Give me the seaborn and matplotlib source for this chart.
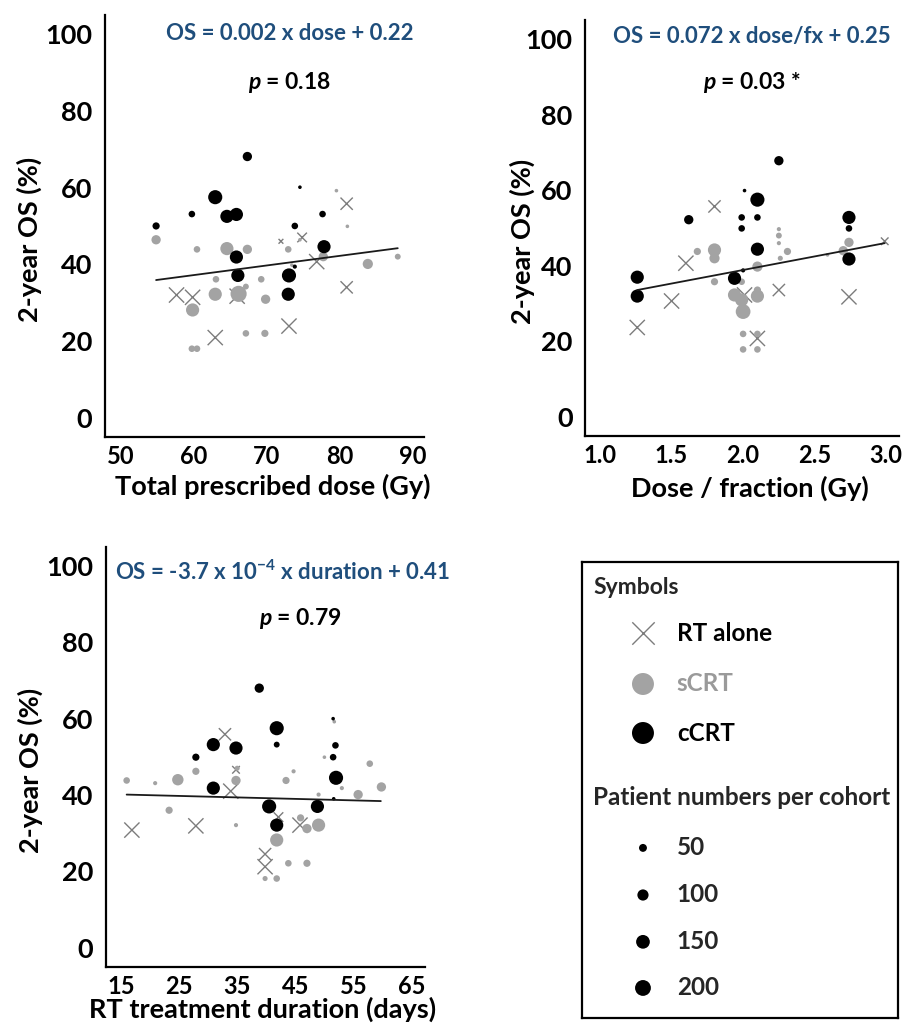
import numpy as np
import pandas as pd
import matplotlib
matplotlib.use("Agg")
import matplotlib.pyplot as plt
import seaborn as sns

# ---------------- data ----------------
# Panel A: total prescribed dose (Gy)
dose_x = [54.9, 59.8, 63.0, 64.6, 65.9, 67.4, 65.9, 66.1, 73.1, 73.0, 73.9, 74.6, 77.7, 77.9, 73.9,
          54.9, 60.5, 64.6, 67.4, 63.1, 63.0, 66.2, 67.2, 69.3, 69.9, 59.9, 59.8, 60.5, 67.2, 69.8,
          73.0, 73.5, 74.6, 77.8, 79.6, 81.1, 83.9, 88.0,
          57.7, 59.9, 63.0, 66.0, 72.0, 74.9, 73.1, 76.9, 81.0, 81.0]
dose_y = [50.0, 53.1, 57.5, 52.5, 53.0, 68.1, 41.9, 37.1, 37.1, 32.2, 50.0, 60.1, 53.1, 44.6, 39.4,
          46.4, 43.9, 44.1, 43.9, 36.1, 32.2, 32.3, 34.2, 36.1, 30.9, 28.1, 18.0, 18.0, 22.0, 22.0,
          43.9, 39.8, 46.4, 42.0, 59.2, 49.9, 40.1, 42.0,
          32.0, 31.4, 20.9, 31.7, 46.0, 47.0, 23.9, 40.7, 55.8, 34.0]
dose_grp = ["cCRT"] * 15 + ["sCRT"] * 23 + ["RT alone"] * 10
dose_n = [60, 50, 230, 200, 200, 100, 200, 200, 230, 200, 50, 15, 50, 200, 20,
          100, 50, 200, 100, 50, 200, 300, 40, 50, 100, 200, 50, 50, 50, 60,
          50, 15, 15, 100, 15, 15, 120, 40,
          200, 200, 200, 200, 20, 80, 200, 200, 130, 130]
dose_fit_x = [54.9, 88.0]
dose_fit_y = [35.9, 44.2]

# Panel B: dose per fraction (Gy)
dpf_x = [1.26, 1.26, 1.62, 1.94, 2.01, 1.99, 1.99, 2.10, 2.10, 2.10, 2.25, 2.00, 2.74, 2.74, 2.74,
         1.68, 1.80, 1.80, 1.80, 1.94, 1.99, 2.00, 2.10, 2.10, 2.10, 1.99, 2.00, 2.10, 2.00, 2.10,
         2.25, 2.25, 2.25, 2.26, 2.31, 2.70, 2.74, 2.59,
         1.26, 1.50, 1.60, 1.80, 2.01, 2.10, 2.25, 2.74, 2.99]
dpf_y = [37.0, 32.0, 52.2, 36.7, 59.9, 52.8, 49.9, 57.5, 52.8, 44.4, 67.8, 38.8, 52.8, 49.9, 41.8,
         43.8, 44.2, 42.0, 35.8, 32.3, 31.0, 27.9, 39.8, 33.6, 32.0, 35.8, 22.0, 22.0, 17.9, 17.9,
         49.7, 48.0, 46.0, 42.0, 43.8, 44.0, 46.2, 42.9,
         23.7, 30.7, 40.7, 55.7, 32.3, 20.8, 33.6, 31.8, 46.5]
dpf_grp = ["cCRT"] * 15 + ["sCRT"] * 23 + ["RT alone"] * 9
dpf_n = [200, 200, 100, 200, 15, 50, 50, 230, 50, 200, 100, 20, 200, 50, 200,
         60, 200, 120, 60, 200, 200, 250, 120, 60, 200, 50, 50, 50, 50, 50,
         20, 40, 20, 30, 60, 100, 100, 15,
         200, 200, 200, 130, 200, 200, 130, 200, 50]
dpf_fit_x = [1.26, 2.99]
dpf_fit_y = [33.6, 46.0]

# Panel C: RT treatment duration (days)
dur_x = [27.9, 30.9, 34.8, 30.9, 38.8, 41.8, 41.8, 40.5, 41.8, 51.5, 51.9, 51.5, 52.0, 48.8, 51.6,
         16.0, 20.9, 24.8, 23.3, 27.9, 34.8, 35.0, 34.8, 43.4, 44.7, 41.8, 45.9, 47.0, 49.0, 43.8,
         47.0, 39.8, 41.8, 50.0, 49.0, 53.0, 55.8, 57.8, 59.8, 51.7,
         16.9, 27.9, 32.9, 34.8, 33.9, 39.8, 39.8, 45.8, 42.1]
dur_y = [49.9, 53.2, 52.3, 41.8, 68.0, 57.5, 53.2, 37.0, 32.1, 60.0, 53.0, 49.9, 44.5, 37.0, 39.0,
         43.8, 43.1, 44.0, 36.0, 46.2, 43.8, 47.0, 32.1, 43.8, 46.2, 28.2, 34.0, 31.2, 32.1, 22.1,
         22.1, 18.1, 18.1, 49.9, 40.1, 41.8, 40.1, 48.2, 42.1, 59.2,
         30.8, 31.9, 55.9, 46.6, 41.0, 24.5, 21.2, 32.1, 34.2]
dur_grp = ["cCRT"] * 15 + ["sCRT"] * 25 + ["RT alone"] * 9
dur_n = [60, 200, 200, 200, 100, 230, 40, 230, 200, 15, 50, 50, 230, 200, 15,
         50, 20, 150, 60, 60, 100, 30, 20, 60, 20, 200, 60, 100, 200, 50,
         60, 30, 50, 15, 20, 20, 100, 50, 100, 15,
         200, 200, 130, 50, 200, 130, 200, 200, 80]
dur_fit_x = [16.0, 59.7]
dur_fit_y = [40.1, 38.4]

y_ticks = [0, 20, 40, 60, 80, 100]
legend_groups = ["RT alone", "sCRT", "cCRT"]
legend_sizes = [50, 100, 150, 200]

# ---------------- style ----------------
sns.set_theme(style="white")
plt.rcParams["font.family"] = ["Lato", "DejaVu Sans"]
plt.rcParams["font.weight"] = "bold"
plt.rcParams["mathtext.fontset"] = "custom"
plt.rcParams["mathtext.rm"] = "Lato:bold"
plt.rcParams["mathtext.it"] = "Lato:italic:bold"
plt.rcParams["mathtext.bf"] = "Lato:bold"
plt.rcParams["mathtext.default"] = "regular"

BLUE = "#1f4e7c"
GRAY = "#a3a3a3"
XCOL = "#7c7c7c"
NORM = (0, 400)
DOT_MAX = 180
X_MAX = 240

fig = plt.figure(figsize=(9.02, 10.32), dpi=100)


def draw_panel(ax, x, y, grp, n, fx, fy, xlim, xticks, xticklabels, xlabel,
               xlabel_pos, ylabel_x, eq, eq_pos, ptxt, p_pos):
    df = pd.DataFrame({"x": x, "y": y, "group": grp, "n": n})
    sns.lineplot(x=fx, y=fy, color="#1a1a1a", linewidth=1.3, ax=ax)
    crosses = df[df["group"] == "RT alone"]
    dots = df[df["group"] != "RT alone"].sort_values("group", ascending=False)
    sns.scatterplot(data=crosses, x="x", y="y", size="n", sizes=(0, X_MAX), size_norm=NORM,
                    marker="x", color=XCOL, linewidth=1.0, legend=False, ax=ax)
    sns.scatterplot(data=dots, x="x", y="y", hue="group",
                    palette={"sCRT": GRAY, "cCRT": "black"}, size="n",
                    sizes=(0, DOT_MAX), size_norm=NORM, edgecolor="none", linewidth=0,
                    legend=False, ax=ax)
    ax.set_xlim(*xlim)
    ax.set_ylim(-5, 105)
    ax.set_xticks(xticks)
    ax.set_xticklabels(xticklabels)
    ax.set_yticks(y_ticks)
    ax.set_xlabel("")
    ax.set_ylabel("")
    for s in ["top", "right"]:
        ax.spines[s].set_visible(False)
    for s in ["left", "bottom"]:
        ax.spines[s].set_color("black")
        ax.spines[s].set_linewidth(1.6)
    ax.tick_params(axis="both", which="both", direction="out", length=3, width=0.8,
                   color="#9a9a9a", labelcolor="black")
    ax.tick_params(axis="x", labelsize=17, pad=3)
    ax.tick_params(axis="y", labelsize=19.5, pad=6)
    for lab in ax.get_xticklabels() + ax.get_yticklabels():
        lab.set_fontweight("bold")
    ax.text(xlabel_pos[0], xlabel_pos[1], xlabel, transform=ax.transAxes, ha="center",
            va="center", fontsize=19.5, fontweight="bold", color="black")
    ax.text(ylabel_x, 0.467, "2-year OS (%)", transform=ax.transAxes, ha="center",
            va="center", rotation=90, fontsize=19.5, fontweight="bold", color="black")
    ax.text(eq_pos[0], eq_pos[1], eq, transform=ax.transAxes, ha="center", va="center",
            fontsize=16, fontweight="bold", color=BLUE)
    ax.text(p_pos[0], p_pos[1], ptxt, transform=ax.transAxes, ha="center", va="center",
            fontsize=16.5, fontweight="bold", color="black")


ax1 = fig.add_axes([0.1164, 0.5766, 0.3537, 0.4089])
ax2 = fig.add_axes([0.6486, 0.5775, 0.3481, 0.4031])
ax3 = fig.add_axes([0.1172, 0.0633, 0.3540, 0.4067])

draw_panel(ax1, dose_x, dose_y, dose_grp, dose_n, dose_fit_x, dose_fit_y,
           (47.9, 91.6), [50, 60, 70, 80, 90], ["50", "60", "70", "80", "90"],
           "Total prescribed dose (Gy)", (0.525, -0.118), -0.237,
           "OS = 0.002 x dose + 0.22", (0.58, 0.955), r"$\mathit{p}$ = 0.18", (0.58, 0.84))
draw_panel(ax2, dpf_x, dpf_y, dpf_grp, dpf_n, dpf_fit_x, dpf_fit_y,
           (0.895, 3.09), [1.0, 1.5, 2.0, 2.5, 3.0], ["1.0", "1.5", "2.0", "2.5", "3.0"],
           "Dose / fraction (Gy)", (0.526, -0.125), -0.2,
           "OS = 0.072 x dose/fx + 0.25", (0.531, 0.96), r"$\mathit{p}$ = 0.03 *", (0.531, 0.849))
draw_panel(ax3, dur_x, dur_y, dur_grp, dur_n, dur_fit_x, dur_fit_y,
           (12.4, 67.3), [15, 25, 35, 45, 55, 65], ["15", "25", "35", "45", "55", "65"],
           "RT treatment duration (days)", (0.49, -0.101), -0.237,
           r"OS = -3.7 x 10$^{-4}$ x duration + 0.41", (0.555, 0.941),
           r"$\mathit{p}$ = 0.79", (0.609, 0.83))

# ---------------- legend panel ----------------
axL = fig.add_axes([0.6452, 0.0136, 0.3504, 0.4418])
axL.set_xlim(0, 1)
axL.set_ylim(0, 1)
axL.set_xticks([])
axL.set_yticks([])
for s in axL.spines.values():
    s.set_visible(True)
    s.set_color("black")
    s.set_linewidth(1.6)

sym_y = [0.844, 0.7325, 0.625]
sym_df = pd.DataFrame({"x": [0.193] * 3, "y": sym_y, "group": legend_groups})
sns.scatterplot(data=sym_df[sym_df["group"] == "RT alone"], x="x", y="y", marker="x",
                s=260, color=XCOL, linewidth=1.0, legend=False, ax=axL)
sns.scatterplot(data=sym_df[sym_df["group"] != "RT alone"], x="x", y="y", hue="group",
                palette={"sCRT": GRAY, "cCRT": "black"}, s=250, edgecolor="none",
                legend=False, ax=axL)
label_cols = {"RT alone": "black", "sCRT": "#9a9a9a", "cCRT": "black"}
for g, yy in zip(legend_groups, sym_y):
    axL.text(0.300, yy, g, ha="left", va="center", fontsize=17.5, fontweight="bold",
             color=label_cols[g])
axL.text(0.035, 0.945, "Symbols", ha="left", va="center", fontsize=16.5, fontweight="bold")
axL.text(0.035, 0.4846, "Patient numbers per cohort", ha="left", va="center",
         fontsize=17.5, fontweight="bold")

size_y = [0.373, 0.2697, 0.167, 0.0658]
size_df = pd.DataFrame({"x": [0.193] * 4, "y": size_y, "n": legend_sizes})
sns.scatterplot(data=size_df, x="x", y="y", size="n", sizes=(0, 260), size_norm=NORM,
                color="black", edgecolor="none", legend=False, ax=axL)
for nn, yy in zip(legend_sizes, size_y):
    axL.text(0.300, yy, str(nn), ha="left", va="center", fontsize=17.5, fontweight="bold")
axL.set_xlabel("")
axL.set_ylabel("")

fig.savefig("out.png", dpi=100)
